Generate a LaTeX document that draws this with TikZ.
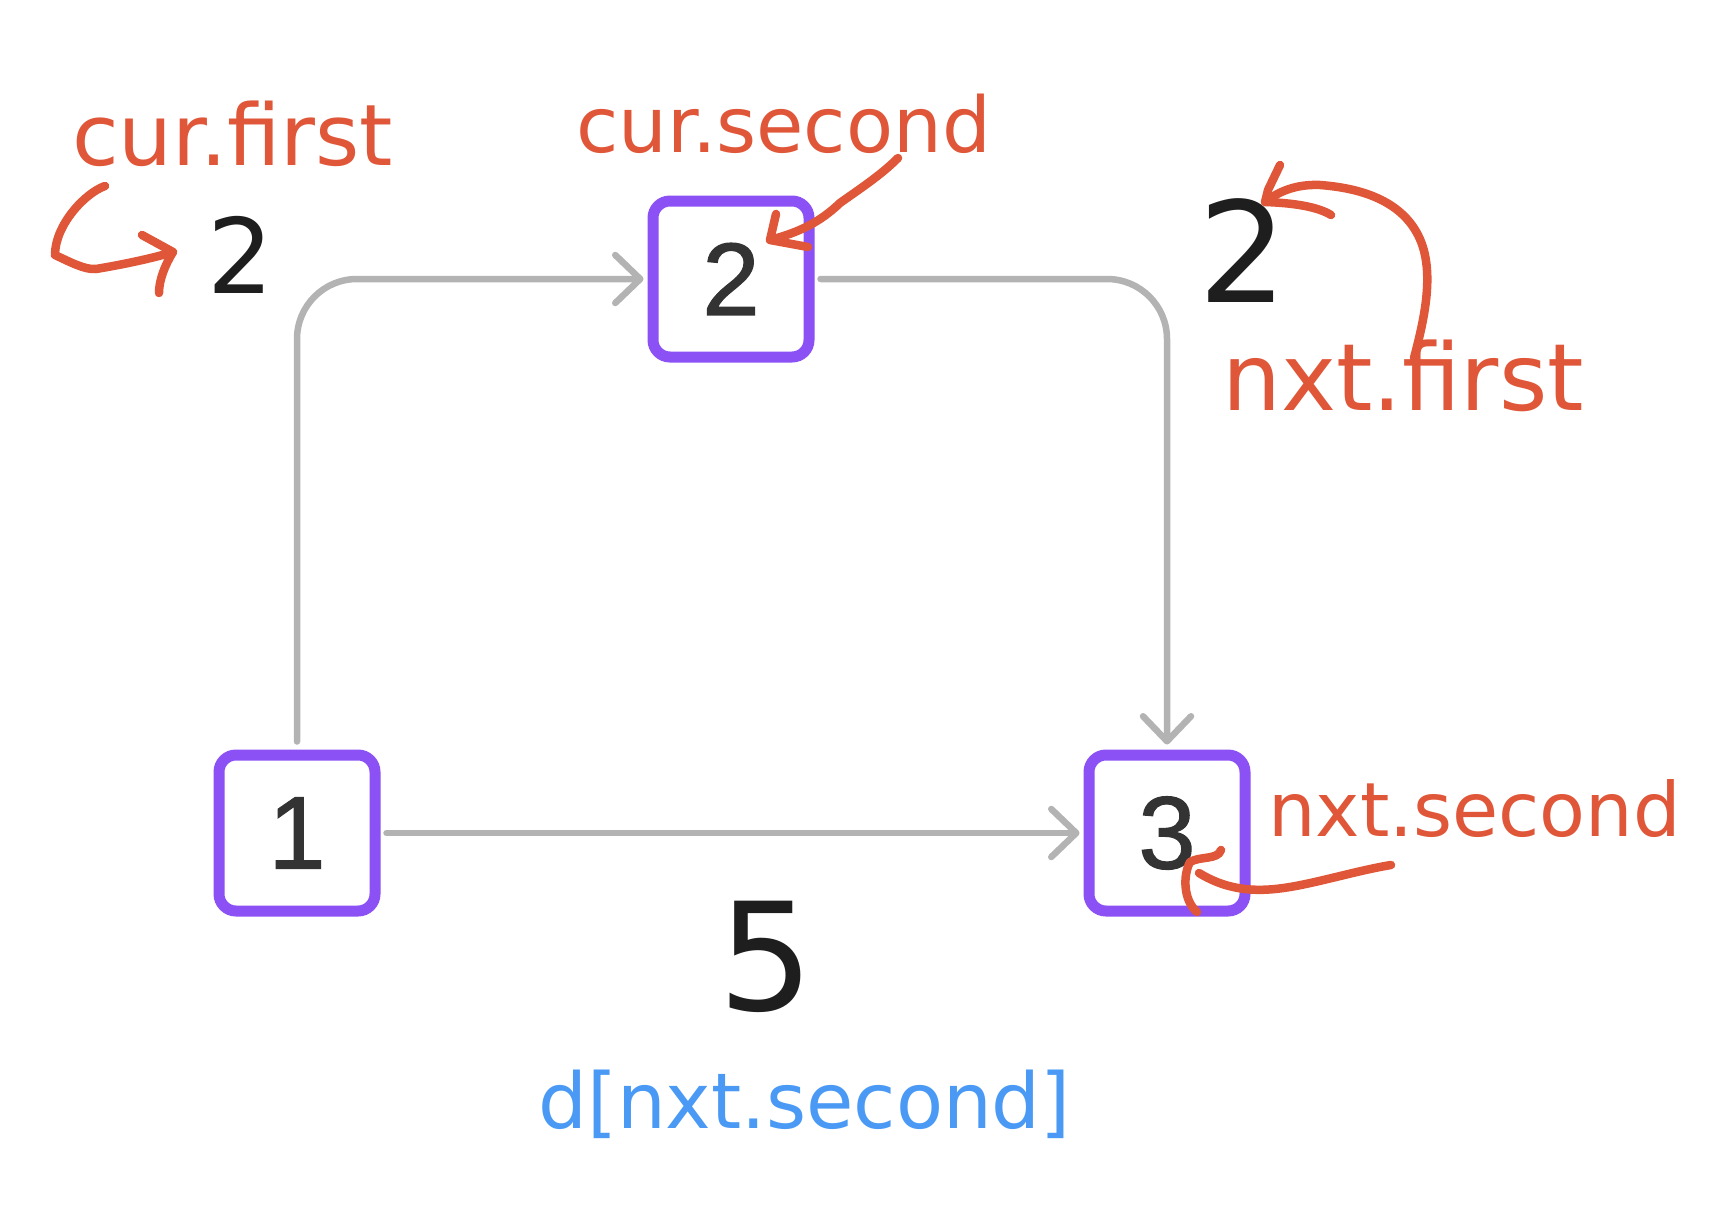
\documentclass[tikz,border=0pt]{standalone}
\usepackage{fontspec}
\newfontfamily\handfont{DejaVu Sans}
\newfontfamily\numfont[FakeBold=1.2]{Liberation Sans}
\usetikzlibrary{arrows.meta}
\definecolor{annred}{HTML}{E05638}
\definecolor{annblue}{HTML}{4A9AF5}
\definecolor{boxpurple}{HTML}{8B51F5}
\definecolor{edgegray}{HTML}{B3B3B3}
\definecolor{inkblack}{HTML}{1E1E1E}
\definecolor{numgray}{HTML}{333333}
\begin{document}
\begin{tikzpicture}[x=1pt,y=-1pt,
  vbox/.style={draw=boxpurple, line width=11pt, rounded corners=17pt,
    minimum size=156pt, inner sep=0pt, fill=white,
    font=\numfont\fontsize{103}{110}\selectfont, text=numgray},
  edge/.style={draw=edgegray, line width=6.5pt, line cap=round,
    rounded corners=60pt, -{Straight Barb[length=25pt, width=48pt, round]}},
  weight/.style={inner sep=0pt, anchor=base, text=inkblack},
  hand/.style={inner sep=0pt, anchor=base west},
  ann/.style={draw=annred, line width=8.5pt, line cap=round, line join=round}
]
\fill[white] (0,0) rectangle (1728,1220);

% vertices
\node[vbox] (n1) at (297,833) {1};
\node[vbox] (n2) at (731,279) {2};
\node[vbox] (n3) at (1167,833) {3};

% edges
\draw[edge, shorten <=8pt, shorten >=4pt] (n1.north) |- (n2.west);
\draw[edge, shorten <=6pt, shorten >=5pt] (n2.east) -| (n3.north);
\draw[edge, shorten <=6pt, shorten >=4pt] (n1.east) -- (n3.west);

% edge weights
\node[weight, font=\handfont\fontsize{104}{110}\selectfont] (w12) at (241,293) {2};
\node[weight, font=\handfont\fontsize{140}{150}\selectfont] (w23) at (1243,302) {2};
\node[weight, font=\handfont\fontsize{150}{160}\selectfont] (w13) at (766,1010) {5};

% labels
\node[hand, text=annred, font=\handfont\fontsize{85}{90}\selectfont] (curfirst) at (72,165) {cur.first};
\node[hand, text=annred, font=\handfont\fontsize{77}{82}\selectfont] (cursecond) at (576,152) {cur.second};
\node[hand, text=annred, font=\handfont\fontsize{93}{98}\selectfont] (nxtfirst) at (1222,410) {nxt.first};
\node[hand, text=annred, font=\handfont\fontsize{75}{80}\selectfont] (nxtsecond) at (1268,836) {nxt.second};
\node[hand, text=annblue, font=\handfont\fontsize{77}{82}\selectfont] (dist) at (538,1128) {d[nxt.second]};

% annotation arrows
\coordinate (a1s) at (105,186);
\coordinate (a1e) at (173,252);
\draw[ann] (a1s) .. controls (85,193) and (55,225) .. (55,255)
  .. controls (70,262) and (85,270) .. (96,269)
  .. controls (120,265) and (150,259) .. (a1e);
\draw[ann] (142,235) -- (a1e) .. controls (165,265) and (159,280) .. (159,293);

\coordinate (a2s) at (898,158);
\coordinate (a2e) at (770,240);
\draw[ann] (a2s) .. controls (880,176) and (858,190) .. (840,203)
  .. controls (820,222) and (800,232) .. (a2e);
\draw[ann] (776,214) -- (a2e) -- (808,247);

\coordinate (a3s) at (1414,358);
\coordinate (a3e) at (1265,202);
\draw[ann] (a3s) .. controls (1424,320) and (1436,270) .. (1418,235)
  .. controls (1400,200) and (1360,188) .. (1320,185)
  .. controls (1295,184) and (1278,192) .. (a3e);
\draw[ann] (1280,165) -- (1268,190) -- (a3e) .. controls (1295,203) and (1318,207) .. (1331,215);

\coordinate (a4s) at (1391,865);
\coordinate (a4e) at (1199,873);
\draw[ann] (a4s) .. controls (1360,870) and (1320,882) .. (1290,887)
  .. controls (1260,892) and (1230,892) .. (a4e);
\draw[ann] (1221,850) .. controls (1218,860) and (1200,856) .. (1190,862)
  .. controls (1183,875) and (1183,900) .. (1197,912);
\end{tikzpicture}
\end{document}
